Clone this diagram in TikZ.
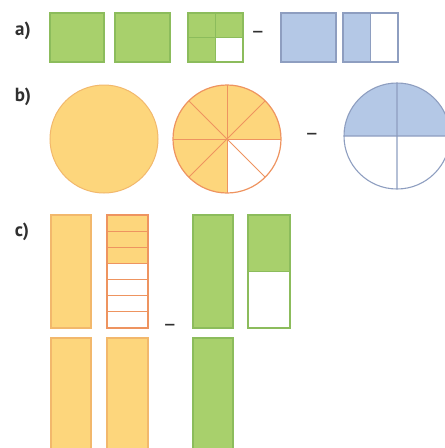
\documentclass[tikz,border=0pt]{standalone}
\usepackage{fontspec}
\setmainfont{PT Sans}
\usetikzlibrary{positioning}
\definecolor{leaf}{HTML}{A8D06C}
\definecolor{leafline}{HTML}{8CBC5C}
\definecolor{sky}{HTML}{B4C8E6}
\definecolor{skyline}{HTML}{8E9EC0}
\definecolor{sun}{HTML}{FDD67C}
\definecolor{sunline}{HTML}{F2B86C}
\definecolor{rust}{HTML}{EE9460}
\definecolor{ink}{HTML}{303030}

\begin{document}
\begin{tikzpicture}[x=1pt, y=-1pt,
          lbl/.style={font=\fontsize{19}{19}\selectfont\bfseries, text=ink, inner sep=0pt},
          minus/.style={font=\fontsize{22}{22}\selectfont, text=ink, inner sep=0pt},
          gbox/.style={draw=leafline, line width=1.3pt, fill=leaf},
          bbox/.style={draw=skyline, line width=1.3pt, fill=sky},
          ybox/.style={draw=sunline, line width=1.3pt, fill=sun}]
        \useasboundingbox (0,0) rectangle (445,448);
        % a)
        \node[lbl] (la) at (23,31) {a)};
        \draw[gbox] (50,13) rectangle (104,62);
        \draw[gbox] (115,13) rectangle (170,62);
        \fill[leaf] (188,13) rectangle (243,62);
        \fill[white] (215.5,37.5) rectangle (243,62);
        \draw[leafline, line width=1.3pt] (188,13) rectangle (243,62) (215.5,13) -- (215.5,62) (188,37.5) -- (243,37.5);
        \node[minus] (ma) at (258,35) {–};
        \draw[bbox] (281,13) rectangle (336,62);
        \fill[sky] (343,13) rectangle (370.5,62);
        \draw[skyline, line width=1.3pt] (343,13) rectangle (398,62) (370.5,13) -- (370.5,62);
        % b)
        \node[lbl] (lb) at (23,97) {b)};
        \draw[fill=sun, draw=sunline, line width=1pt] (104,139) circle[radius=54];
        \fill[sun] (227,139) -- ++(90:54) arc[start angle=90, end angle=360, radius=54] -- cycle;
        \foreach \a in {0,45,90,135}
          \draw[rust, line width=1pt] (227,139) ++(\a:54) -- ++(\a+180:108);
        \draw[rust, line width=1.2pt] (227,139) circle[radius=54];
        \node[minus] (mb) at (312,137) {–};
        \fill[sky] (397,136) ++(-53,0) arc[start angle=180, end angle=360, radius=53] -- cycle;
        \draw[skyline, line width=1.1pt] (397,136) circle[radius=53] (344,136) -- (450,136) (397,83) -- (397,189);
        % c)
        \node[lbl] (lc) at (22,232) {c)};
        \draw[ybox] (51,215) rectangle (91,328);
        \fill[sun] (107,215) rectangle (148,263.4);
        \foreach \k in {1,...,6}
          \draw[rust, line width=1.1pt] (107,215+\k*16.14) -- (148,215+\k*16.14);
        \draw[rust, line width=1.3pt] (107,215) rectangle (148,328);
        \node[minus] (mc) at (170,328) {–};
        \draw[gbox] (193,215) rectangle (233,328);
        \fill[leaf] (248,215) rectangle (290,271.5);
        \draw[leafline, line width=1.3pt] (248,215) rectangle (290,328) (248,271.5) -- (290,271.5);
        \draw[ybox] (51,338) rectangle (91,460);
        \draw[ybox] (107,338) rectangle (148,460);
        \draw[gbox] (193,338) rectangle (233,460);
      \end{tikzpicture}
\end{document}
